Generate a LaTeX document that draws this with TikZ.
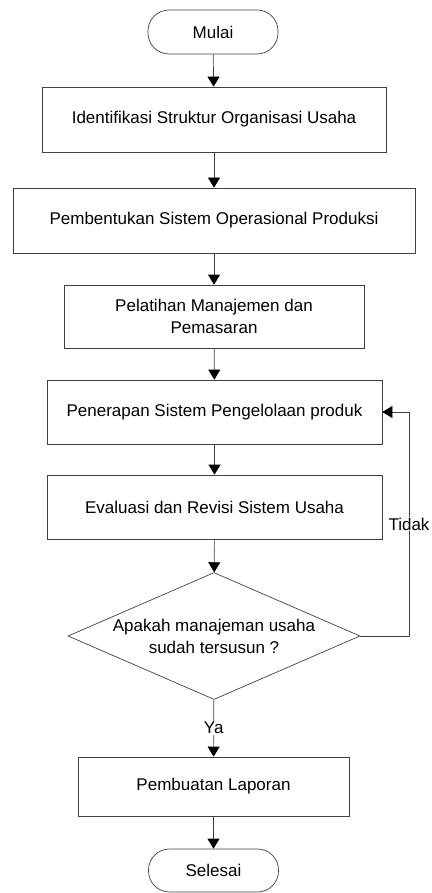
\documentclass[tikz,border=0pt]{standalone}
\usepackage{fontspec}
\setmainfont{Liberation Sans}
\usetikzlibrary{shapes,arrows.meta}

\tikzset{
	txt/.style={font=\fontsize{17}{22}\selectfont},
	line/.style={draw=black!75, line width=0.7pt},
	arr/.style={line, -{Triangle[width=12pt,length=10pt,black]}},
	terminal/.style={line, txt, rectangle, rounded corners=21pt, minimum width=130pt, minimum height=44pt},
	process/.style={line, txt, rectangle, minimum height=64pt, align=center},
	decision/.style={line, txt, diamond, aspect=2.3, inner sep=-2pt, minimum width=292pt, minimum height=127pt, align=center}
}

\begin{document}
\begin{tikzpicture}[x=1pt,y=-1pt]
			\useasboundingbox (0,0) rectangle (431,893);
			\node[terminal] (mulai) at (213,32) {Mulai};
			\node[process, minimum width=344pt, minimum height=65pt] (identifikasi) at (214,119.5) {Identifikasi Struktur Organisasi Usaha};
			\node[process, minimum width=402pt, minimum height=65pt] (pembentukan) at (214,220.5) {Pembentukan Sistem Operasional Produksi};
			\node[process, minimum width=300pt, minimum height=63pt] (pelatihan) at (214,316.5) {Pelatihan Manajemen dan\\Pemasaran};
			\node[process, minimum width=335pt] (penerapan) at (214.5,412) {Penerapan Sistem Pengelolaan produk};
			\node[process, minimum width=335pt] (evaluasi) at (214.5,507) {Evaluasi dan Revisi Sistem Usaha};
			\node[decision] (cek) at (214,636) {Apakah manajeman usaha\\sudah tersusun ?};
			\node[process, minimum width=271pt, minimum height=59pt] (laporan) at (213.5,786.5) {Pembuatan Laporan};
			\node[terminal, minimum height=43pt] (selesai) at (213.5,870.5) {Selesai};
			\coordinate (balik) at (409,636);
%			feedback loop
			\draw[arr] (mulai) -- (identifikasi);
			\draw[arr] (identifikasi) -- (pembentukan);
			\draw[arr] (pembentukan) -- (pelatihan);
			\draw[arr] (pelatihan) -- (penerapan);
			\draw[arr] (penerapan) -- (evaluasi);
			\draw[arr] (evaluasi) -- (cek);
			\draw[arr] (cek) -- node[txt, fill=white, inner sep=1pt] (ya) {Ya} (laporan);
			\draw[arr] (laporan) -- (selesai);
			\draw[arr] (cek.east) -- (balik) |- (penerapan.east);
			\node[txt, fill=white, inner sep=1pt] (tidak) at (409,524) {Tidak};
		\end{tikzpicture}
\end{document}
